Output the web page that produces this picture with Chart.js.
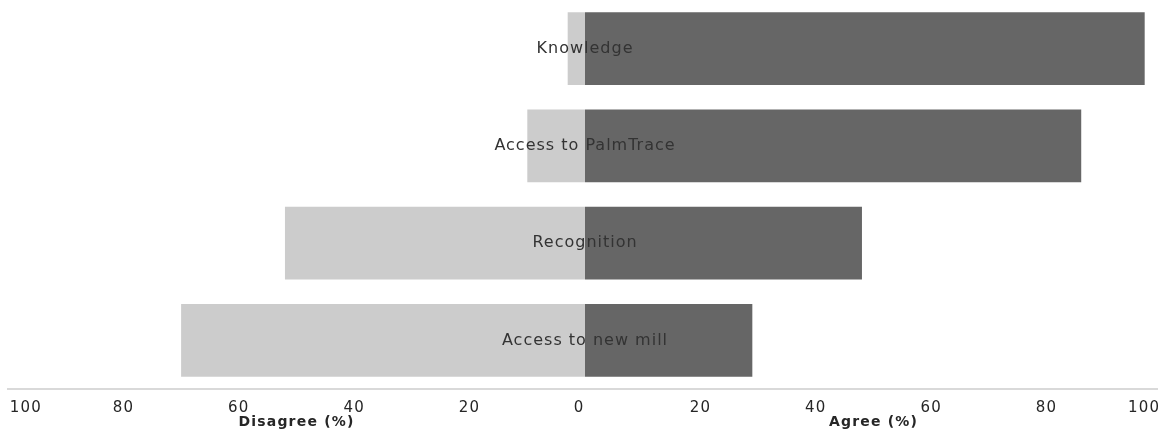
<!DOCTYPE html>
<html lang="en">
<head>
  <meta charset="UTF-8" />
  <title>Agree / Disagree</title>
  <script src="https://cdn.jsdelivr.net/npm/chart.js"></script>
  <style>
    html, body { margin: 0; padding: 0; background: #fff; overflow: hidden; }
    /* axis runs 4px past the right edge in the original, so the canvas does too */
    #wrap { width: 1162px; height: 441px; position: relative; }
  </style>
</head>
<body>
  <div id="wrap"><canvas id="likertChart"></canvas></div>

  <script>
    const categories = ["Knowledge", "Access to PalmTrace", "Recognition", "Access to new mill"];
    const disagreePct = [3, 10, 52, 70];
    const agreePct = [97, 86, 48, 29];
    const axisTitles = ["Disagree (%)", "Agree (%)"];

    const FONT = "'DejaVu Sans', Verdana, sans-serif";

    // wide-looking text like the original
    const spacingPlugin = {
      id: 'spacing',
      beforeDraw(chart) {
        chart.ctx.letterSpacing = '1.2px';
      }
    };

    // category names sit on the zero line, over the bars
    const centerLabels = {
      id: 'centerLabels',
      afterDatasetsDraw(chart) {
        const { ctx, scales: { x, y } } = chart;
        ctx.save();
        ctx.letterSpacing = '1px';
        ctx.font = `16px ${FONT}`;
        ctx.fillStyle = '#333333';
        ctx.textAlign = 'center';
        ctx.textBaseline = 'middle';
        categories.forEach((c, i) => {
          ctx.fillText(c, x.getPixelForValue(0), y.getPixelForValue(i));
        });
        ctx.restore();
      },
      afterDraw(chart) {
        const { ctx, scales: { x } } = chart;
        ctx.save();
        ctx.letterSpacing = '1.2px';
        ctx.font = `bold 14px ${FONT}`;
        ctx.fillStyle = '#262626';
        ctx.textAlign = 'center';
        ctx.textBaseline = 'middle';
        ctx.fillText(axisTitles[0], x.getPixelForValue(-50), 422);
        ctx.fillText(axisTitles[1], x.getPixelForValue(50), 422);
        ctx.restore();
      }
    };

    new Chart(document.getElementById('likertChart'), {
      type: 'bar',
      data: {
        labels: categories,
        datasets: [
          {
            label: 'Disagree',
            data: disagreePct.map(v => -v),
            backgroundColor: '#cccccc',
            borderWidth: 0
          },
          {
            label: 'Agree',
            data: agreePct,
            backgroundColor: '#666666',
            borderWidth: 0
          }
        ]
      },
      options: {
        indexAxis: 'y',
        responsive: true,
        maintainAspectRatio: false,
        animation: false,
        layout: { padding: { left: 8, right: 0, top: -1, bottom: 0 } },
        datasets: { bar: { barPercentage: 0.75, categoryPercentage: 1 } },
        plugins: {
          legend: { display: false },
          tooltip: { enabled: false }
        },
        scales: {
          x: {
            stacked: true,
            min: -100,
            max: 100,
            grid: { display: false },
            border: { display: true, color: '#d9d9d9', width: 2 },
            ticks: {
              stepSize: 20,
              autoSkip: false,
              maxRotation: 0,
              padding: 2,
              color: '#262626',
              font: { family: FONT, size: 15 },
              callback: (v) => {
                const s = String(Math.abs(v));
                // edge labels are pulled inward, as in the original
                if (v === -100) return '      ' + s;
                if (v === 100) return s + '      ';
                if (v === 0) return s + '  ';
                return s;
              }
            },
            afterFit(scale) {
              scale.paddingLeft = 0;
              scale.paddingRight = 0;
              scale.height = 52;
            }
          },
          y: {
            stacked: true,
            display: false
          }
        }
      },
      plugins: [spacingPlugin, centerLabels]
    });
  </script>
</body>
</html>
